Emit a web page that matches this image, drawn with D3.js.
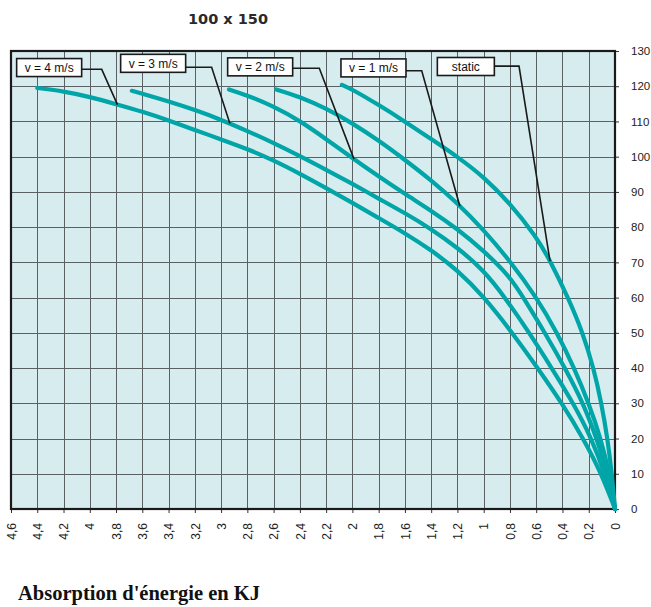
<!DOCTYPE html>
<html>
<head>
<meta charset="utf-8">
<script src="https://cdn.jsdelivr.net/npm/d3@7"></script>
<style>
  body { margin: 0; background: #fff; }
  svg { display: block; }
</style>
</head>
<body>
<svg id="chart" width="651" height="607"></svg>
<script>
// Energy absorbed (kJ) vs. force, for a 100 x 150 element at several impact speeds
const xTickValues = [0, 0.2, 0.4, 0.6, 0.8, 1, 1.2, 1.4, 1.6, 1.8, 2, 2.2, 2.4, 2.6, 2.8, 3, 3.2, 3.4, 3.6, 3.8, 4, 4.2, 4.4, 4.6];
const yTickValues = [0, 10, 20, 30, 40, 50, 60, 70, 80, 90, 100, 110, 120, 130];

const seriesNames = ["v = 4 m/s", "v = 3 m/s", "v = 2 m/s", "v = 1 m/s", "static"];

// [energy kJ, force] pairs
const curveV4 = [[4.4,119.5],[4.2,118.6],[4.0,117.0],[3.8,114.9],[3.6,112.8],[3.4,110.3],[3.2,107.6],[3.0,104.9],[2.8,102.2],[2.6,99.0],[2.4,95.2],[2.2,91.1],[2.0,86.9],[1.8,82.6],[1.6,78.3],[1.4,73.5],[1.2,67.8],[1.0,60.3],[0.8,50.9],[0.6,40.6],[0.4,29.8],[0.241,20],[0.102,10],[0,0]];
const curveV3 = [[3.68,118.7],[3.6,117.9],[3.4,115.7],[3.2,113.3],[3.0,110.5],[2.8,107.3],[2.6,103.9],[2.4,100.2],[2.2,96.3],[2.0,92.3],[1.8,88.1],[1.6,84.0],[1.4,79.5],[1.2,74.2],[1.0,67.8],[0.835,59.9],[0.660,50.4],[0.482,40],[0.317,30],[0.178,20],[0.076,10],[0,0]];
const curveV2 = [[2.94,119.1],[2.8,117.4],[2.6,114.3],[2.4,110.2],[2.2,105.0],[2.0,99.6],[1.8,94.4],[1.6,89.4],[1.4,84.7],[1.2,79.5],[1.0,73.3],[0.8,66.0],[0.695,59.8],[0.533,50],[0.381,40],[0.241,30],[0.140,20],[0.055,10],[0,0]];
const curveV1 = [[2.58,119.1],[2.4,117.0],[2.2,113.7],[2.0,109.5],[1.8,104.6],[1.6,99.1],[1.4,93.3],[1.2,86.8],[1.0,79.2],[0.8,70.4],[0.6,60.2],[0.44,50],[0.31,40],[0.20,30],[0.108,20],[0.042,10],[0,0]];
const curveStatic = [[2.08,120.4],[2.0,119.1],[1.8,114.7],[1.6,110.0],[1.4,105.0],[1.2,100.0],[1.0,94.3],[0.8,86.8],[0.6,77.3],[0.495,70.6],[0.355,59.8],[0.245,50],[0.163,40],[0.103,30],[0.057,20],[0.024,10],[0,0]];

// Callout boxes: left edge / centre line of each box, elbow of the leader, point on the curve
const labelBoxX = [4.557, 3.765, 2.950, 2.087, 1.353];
const labelBoxY = [125.3, 126.5, 125.5, 125.2, 125.6];
const leaderY   = [124.8, 125.4, 125.1, 124.4, 125.7];
const elbowX    = [3.909, 3.072, 2.252, 1.472, 0.731];
const targetX   = [3.790, 2.932, 1.988, 1.180, 0.495];

const curves = [curveV4, curveV3, curveV2, curveV1, curveStatic];

const svg = d3.select("#chart");
const plot = { left: 11, right: 615, top: 51, bottom: 509 };

const x = d3.scaleLinear().domain([4.6, 0]).range([plot.left, plot.right]);
const y = d3.scaleLinear().domain([0, 130]).range([plot.bottom, plot.top]);

const commaLocale = d3.formatLocale({ decimal: ",", thousands: ".", grouping: [3], currency: ["", " €"] });
const fmtX = commaLocale.format("~g");

// Title
svg.append("text")
  .attr("x", 228).attr("y", 24)
  .attr("text-anchor", "middle")
  .attr("font-family", "DejaVu Sans, sans-serif")
  .attr("font-weight", "bold")
  .attr("font-size", 14.5)
  .attr("fill", "#2a2a2a")
  .text("100 x 150");

// Plot background
svg.append("rect")
  .attr("x", plot.left).attr("y", plot.top)
  .attr("width", plot.right - plot.left).attr("height", plot.bottom - plot.top)
  .attr("fill", "#d6ecee");

// Grid
const grid = svg.append("g").attr("stroke", "#5b6162").attr("stroke-width", 1);
grid.selectAll("line.v").data(xTickValues).join("line")
  .attr("class", "v")
  .attr("x1", d => Math.round(x(d)) + 0.5).attr("x2", d => Math.round(x(d)) + 0.5)
  .attr("y1", plot.top).attr("y2", plot.bottom);
grid.selectAll("line.h").data(yTickValues).join("line")
  .attr("class", "h")
  .attr("y1", d => Math.round(y(d)) + 0.5).attr("y2", d => Math.round(y(d)) + 0.5)
  .attr("x1", plot.left).attr("x2", plot.right);

// Axes
const xAxis = svg.append("g")
  .attr("transform", `translate(0,${plot.bottom})`)
  .call(d3.axisBottom(x).tickValues(xTickValues).tickSize(4).tickFormat(fmtX));
xAxis.select(".domain").remove();
xAxis.selectAll(".tick line").attr("stroke", "#333");
xAxis.selectAll(".tick text")
  .attr("font-family", "Liberation Sans, Arial, sans-serif")
  .attr("font-size", 12)
  .attr("fill", "#222")
  .attr("text-anchor", "end")
  .attr("transform", "rotate(-90)")
  .attr("x", -14).attr("y", 0).attr("dy", "0.35em");

const yAxis = svg.append("g")
  .attr("transform", `translate(${plot.right},0)`)
  .call(d3.axisRight(y).tickValues(yTickValues).tickSize(4));
yAxis.select(".domain").remove();
yAxis.selectAll(".tick line").attr("stroke", "#333");
yAxis.selectAll(".tick text")
  .attr("font-family", "Liberation Sans, Arial, sans-serif")
  .attr("font-size", 11.5)
  .attr("fill", "#222")
  .attr("x", 16);

// Frame
svg.append("rect")
  .attr("x", plot.left).attr("y", plot.top)
  .attr("width", plot.right - plot.left).attr("height", plot.bottom - plot.top)
  .attr("fill", "none").attr("stroke", "#1a1a1a").attr("stroke-width", 2.2);

// Curves (B-spline through the read points, smoothing out reading noise)
const line = d3.line()
  .x(d => x(d[0]))
  .y(d => y(d[1]))
  .curve(d3.curveBasis);

const paths = svg.append("g").selectAll("path").data(curves).join("path")
  .attr("d", line)
  .attr("fill", "none")
  .attr("stroke", "#00a5a8")
  .attr("stroke-width", 4.2)
  .attr("stroke-linecap", "round")
  .attr("stroke-linejoin", "round");

// Point on a drawn curve at a given energy
function pointOnPath(node, e) {
  const px = x(e);
  const len = node.getTotalLength();
  let best = null, bestD = Infinity;
  for (let s = 0; s <= len; s += 0.5) {
    const p = node.getPointAtLength(s);
    const d = Math.abs(p.x - px);
    if (d < bestD) { bestD = d; best = p; }
  }
  return [best.x, best.y];
}

// Callouts
const callouts = svg.append("g");
seriesNames.forEach((name, i) => {
  const g = callouts.append("g");
  const txt = g.append("text")
    .attr("font-family", "Liberation Sans, Arial, sans-serif")
    .attr("font-size", 12)
    .attr("fill", "#111")
    .attr("text-anchor", "middle")
    .attr("dy", "0.35em")
    .text(name);
  const w = Math.max(txt.node().getComputedTextLength() + 16, 57);
  const bx = x(labelBoxX[i]);
  const by = y(labelBoxY[i]);
  g.insert("rect", "text")
    .attr("x", bx).attr("y", by - 9)
    .attr("width", w).attr("height", 18)
    .attr("fill", "#fff").attr("stroke", "#1a1a1a").attr("stroke-width", 1.6);
  txt.attr("x", bx + w / 2).attr("y", by);

  const ly = y(leaderY[i]);
  const target = pointOnPath(paths.nodes()[i], targetX[i]);
  callouts.append("polyline")
    .attr("points", [[bx + w, ly], [x(elbowX[i]), ly], target].map(p => p.join(",")).join(" "))
    .attr("fill", "none").attr("stroke", "#1a1a1a").attr("stroke-width", 1.6);
});

// Footer caption
svg.append("text")
  .attr("x", 18).attr("y", 600)
  .attr("font-family", "Liberation Serif, 'Times New Roman', serif")
  .attr("font-weight", "bold")
  .attr("font-size", 20.5)
  .attr("fill", "#111")
  .text("Absorption d'énergie en KJ");
</script>
</body>
</html>
